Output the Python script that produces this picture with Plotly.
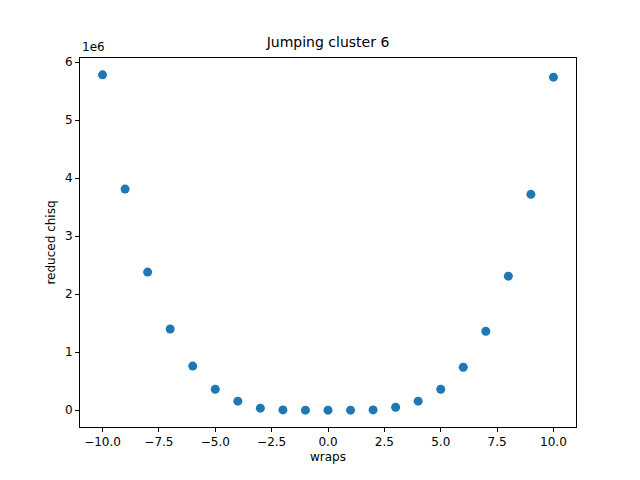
import plotly.graph_objects as go

wraps = list(range(-10, 11))
# reduced chisq, in units of 1e6
chisq = [5.78, 3.81, 2.38, 1.40, 0.76, 0.36, 0.155, 0.035, 0.005, 0.0, 0.0,
         0.0, 0.005, 0.05, 0.155, 0.36, 0.74, 1.36, 2.31, 3.72, 5.74]

fig = go.Figure()
fig.add_trace(go.Scatter(
    x=wraps, y=chisq, mode="markers",
    marker=dict(color="#1f77b4", size=9),
))

axis_style = dict(
    showgrid=False, zeroline=False, showline=True, linecolor="black",
    mirror=True, ticks="outside", ticklen=4, tickcolor="black",
    tickfont=dict(size=12, color="black"),
)
fig.update_xaxes(range=[-11, 11], tickvals=[-10, -7.5, -5, -2.5, 0, 2.5, 5, 7.5, 10],
                 ticktext=["−10.0", "−7.5", "−5.0", "−2.5", "0.0", "2.5", "5.0", "7.5", "10.0"],
                 title=dict(text="wraps", font=dict(size=12, color="black"), standoff=4),
                 **axis_style)
fig.update_yaxes(range=[-0.29, 6.07], tickvals=[0, 1, 2, 3, 4, 5, 6],
                 title=dict(text="reduced chisq", font=dict(size=12, color="black"), standoff=6),
                 **axis_style)

# page body adds an 8px offset, so the figure is sized to fit the window
fig.update_layout(
    width=632, height=472,
    margin=dict(l=72, r=64, t=50, b=53),
    plot_bgcolor="white", paper_bgcolor="white",
    font=dict(family="DejaVu Sans", color="black"),
    title=dict(text="Jumping cluster 6", x=0.5, xanchor="center",
               xref="paper", y=0.938, font=dict(size=14, color="black")),
    showlegend=False,
    annotations=[dict(text="1e6", xref="paper", yref="paper", x=0, y=1.005,
                      xanchor="left", yanchor="bottom", showarrow=False,
                      font=dict(size=12, color="black"))],
)

fig.write_html("out.html")
